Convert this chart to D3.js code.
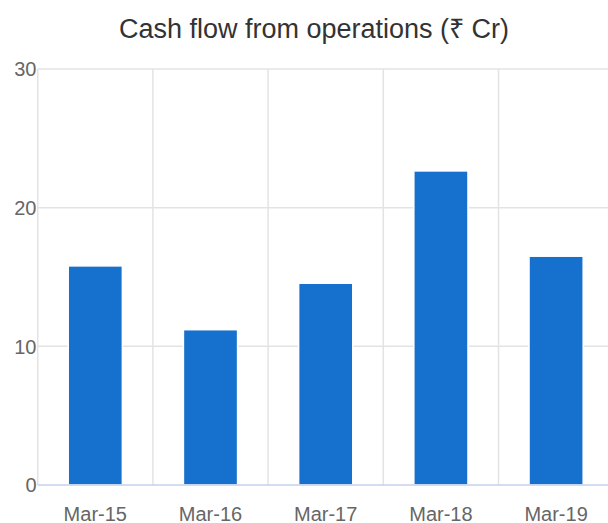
<!DOCTYPE html>
<html>
<head>
<meta charset="utf-8">
<script src="https://cdn.jsdelivr.net/npm/d3@7"></script>
<style>
  html, body { margin: 0; padding: 0; background: #fff; }
  svg { display: block; font-family: "Liberation Sans", Arial, sans-serif; }
</style>
</head>
<body>
<div id="chart"></div>
<script>
const categories = ["Mar-15", "Mar-16", "Mar-17", "Mar-18", "Mar-19"];
const cashFlow = [15.8, 11.2, 14.55, 22.65, 16.5];
const yTicks = [0, 10, 20, 30];
const title = "Cash flow from operations (\u20B9 Cr)";

const data = categories.map((c, i) => ({ label: c, value: cashFlow[i] }));

const svgWidth = 608, svgHeight = 523;
// plot area runs a bit past the right edge of the window
const plot = { left: 37.7, right: 613.7, top: 69, bottom: 485 };

const svg = d3.select("#chart").append("svg")
  .attr("width", svgWidth)
  .attr("height", svgHeight);

const x = d3.scaleBand().domain(categories).range([plot.left, plot.right]);
const xBar = d3.scaleBand().domain(categories).range([plot.left, plot.right])
  .paddingInner(0.53).paddingOuter(0.265);
const y = d3.scaleLinear().domain([0, 30]).range([plot.bottom, plot.top]);

// horizontal grid
svg.append("g")
  .selectAll("line")
  .data(yTicks.filter(d => d > 0))
  .join("line")
  .attr("x1", plot.left).attr("x2", svgWidth)
  .attr("y1", d => y(d)).attr("y2", d => y(d))
  .attr("stroke", "#e3e3e3")
  .attr("stroke-width", 1.5);

// vertical grid at category boundaries
svg.append("g")
  .selectAll("line")
  .data(categories)
  .join("line")
  .attr("x1", d => x(d)).attr("x2", d => x(d))
  .attr("y1", plot.top).attr("y2", plot.bottom)
  .attr("stroke", "#e3e3e3")
  .attr("stroke-width", 1.5);

// bars
svg.append("g")
  .selectAll("rect")
  .data(data)
  .join("rect")
  .attr("x", d => xBar(d.label))
  .attr("width", xBar.bandwidth())
  .attr("y", d => y(d.value))
  .attr("height", d => y(0) - y(d.value))
  .attr("fill", "#1670cd")
  .attr("stroke", "#fff")
  .attr("stroke-width", 1.5);

// baseline
svg.append("line")
  .attr("x1", plot.left).attr("x2", svgWidth)
  .attr("y1", y(0)).attr("y2", y(0))
  .attr("stroke", "#c4d1ec")
  .attr("stroke-width", 1.5);

// y labels
svg.append("g")
  .selectAll("text")
  .data(yTicks)
  .join("text")
  .attr("x", 36.5)
  .attr("y", d => y(d))
  .attr("dy", "0.36em")
  .attr("text-anchor", "end")
  .attr("fill", "#666")
  .attr("font-size", 20)
  .text(d => d);

// x labels
svg.append("g")
  .selectAll("text")
  .data(categories)
  .join("text")
  .attr("x", d => x(d) + x.bandwidth() / 2)
  .attr("y", 520.5)
  .attr("text-anchor", "middle")
  .attr("fill", "#666")
  .attr("font-size", 20)
  .text(d => d);

svg.append("text")
  .attr("x", 314)
  .attr("y", 38)
  .attr("text-anchor", "middle")
  .attr("fill", "#333")
  .attr("font-size", 27)
  .text(title);
</script>
</body>
</html>
